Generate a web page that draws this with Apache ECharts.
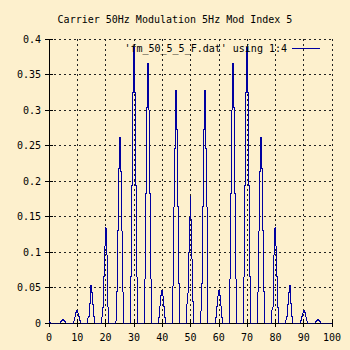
<!DOCTYPE html>
<html>
<head>
<meta charset="utf-8">
<script src="https://cdn.jsdelivr.net/npm/echarts@6/dist/echarts.min.js"></script>
<style>
  html, body { margin: 0; padding: 0; background: #fdf0cd; }
  #chart { width: 350px; height: 350px; }
  /* pixel-sharp strokes, like a bitmap plot terminal */
  #chart svg path, #chart svg line, #chart svg rect { shape-rendering: crispEdges; }
</style>
</head>
<body>
<div id="chart"></div>
<script>
// FM spectrum: carrier 50 Hz, modulation 5 Hz, index 5.
// Each sideband is sampled on a 1/3 Hz grid around its centre frequency.
const sidebandHz = [0, 5, 10, 15, 20, 25, 30, 35, 40, 45, 50, 55, 60, 65, 70, 75, 80, 85, 90, 95];
const binStepHz = 1 / 3;
const binIndex = [-3, -2, -1, 0, 1, 2, 3];
const sidebandSamples = [
  [0, 0, 0, 0.002, 0.001, 0, 0],
  [0, 0.002, 0.004, 0.0055, 0.004, 0.002, 0],
  [0.003, 0.009, 0.015, 0.018, 0.014, 0.009, 0.003],
  [0.009, 0.027, 0.044, 0.053, 0.043, 0.026, 0.009],
  [0.022, 0.065, 0.108, 0.134, 0.096, 0.065, 0.022],
  [0.044, 0.130, 0.217, 0.261, 0.214, 0.130, 0.044],
  [0.065, 0.194, 0.325, 0.388, 0.325, 0.194, 0.065],
  [0.062, 0.182, 0.303, 0.365, 0.300, 0.182, 0.062],
  [0.008, 0.024, 0.039, 0.046, 0.038, 0.023, 0.008],
  [0.056, 0.164, 0.246, 0.328, 0.272, 0.164, 0.056],
  [0.042, 0.100, 0.149, 0.178, 0.146, 0.090, 0.030],
  [0.056, 0.164, 0.272, 0.328, 0.246, 0.164, 0.056],
  [0.008, 0.023, 0.038, 0.046, 0.039, 0.024, 0.008],
  [0.062, 0.182, 0.300, 0.365, 0.303, 0.182, 0.062],
  [0.065, 0.194, 0.325, 0.388, 0.325, 0.194, 0.065],
  [0.044, 0.130, 0.214, 0.261, 0.217, 0.130, 0.044],
  [0.022, 0.065, 0.096, 0.134, 0.108, 0.065, 0.022],
  [0.009, 0.026, 0.043, 0.053, 0.044, 0.027, 0.009],
  [0.003, 0.009, 0.014, 0.018, 0.015, 0.009, 0.003],
  [0, 0.002, 0.004, 0.0055, 0.004, 0.002, 0]
];
const xTicks = [0, 10, 20, 30, 40, 50, 60, 70, 80, 90, 100];
const yTicks = [0, 0.05, 0.1, 0.15, 0.2, 0.25, 0.3, 0.35, 0.4];
const seriesName = "'fm_50_5_5_F.dat' using 1:4";
const titleText = 'Carrier 50Hz Modulation 5Hz Mod Index 5';

// Assemble the spectrum as (frequency, magnitude) pairs with zero baseline between sidebands.
const spectrum = [];
sidebandHz.forEach((centre, i) => {
  if (centre > 0) spectrum.push([+(centre - 4 * binStepHz).toFixed(3), 0]);
  binIndex.forEach((k, j) => {
    const f = +(centre + k * binStepHz).toFixed(3);
    if (f >= 0) spectrum.push([f, sidebandSamples[i][j]]);
  });
  spectrum.push([+(centre + 4 * binStepHz).toFixed(3), 0]);
});
spectrum.push([100, 0]);

const FONT = 'DejaVu Sans Mono';
const ink = '#000000';
const lineBlue = '#0000a0';
const gridDash = { color: '#222', width: 1, type: [2, 3] };

const chart = echarts.init(document.getElementById('chart'), null, { renderer: 'svg' });
chart.setOption({
  backgroundColor: '#fdf0cd',
  animation: false,
  textStyle: { fontFamily: FONT },
  title: {
    text: titleText,
    left: 'center',
    top: 9,
    textStyle: { fontFamily: FONT, fontSize: 10, fontWeight: 'normal', color: ink }
  },
  legend: {
    right: 25,
    top: 38,
    align: 'right',
    itemWidth: 28,
    itemHeight: 1,
    textStyle: { fontFamily: FONT, fontSize: 10, color: ink },
    data: [{ name: seriesName, icon: 'rect', itemStyle: { color: lineBlue } }]
  },
  grid: { left: 49, right: 18, top: 39, bottom: 27, containLabel: false },
  xAxis: [
    {
      type: 'value', position: 'bottom', min: xTicks[0], max: xTicks[xTicks.length - 1], interval: 10, z: 3,
      axisLine: { lineStyle: { color: ink, width: 1 } },
      axisTick: { inside: true, length: 4, lineStyle: { color: ink } },
      axisLabel: { color: ink, fontFamily: FONT, fontSize: 10, margin: 9 },
      splitLine: { show: true, lineStyle: gridDash }
    },
    {
      type: 'value', position: 'top', min: xTicks[0], max: xTicks[xTicks.length - 1], interval: 10, z: 3,
      axisLine: { show: true, lineStyle: { color: ink, width: 1 } },
      axisTick: { inside: true, length: 4, lineStyle: { color: ink } },
      axisLabel: { show: false },
      splitLine: { show: false }
    }
  ],
  yAxis: [
    {
      type: 'value', position: 'left', min: yTicks[0], max: yTicks[yTicks.length - 1], interval: 0.05, z: 3,
      axisLine: { show: true, lineStyle: { color: ink, width: 1 } },
      axisTick: { show: true, inside: true, length: 4, lineStyle: { color: ink } },
      axisLabel: { color: ink, fontFamily: FONT, fontSize: 10, margin: 8 },
      splitLine: { show: true, lineStyle: gridDash }
    },
    {
      type: 'value', position: 'right', min: yTicks[0], max: yTicks[yTicks.length - 1], interval: 0.05, z: 3,
      axisLine: { show: true, lineStyle: { color: ink, width: 1 } },
      axisTick: { show: true, inside: true, length: 4, lineStyle: { color: ink } },
      axisLabel: { show: false },
      splitLine: { show: false }
    }
  ],
  series: [
    {
      name: seriesName,
      type: 'line',
      step: 'middle',
      xAxisIndex: 0,
      yAxisIndex: 0,
      symbol: 'none',
      lineStyle: { color: lineBlue, width: 1 },
      itemStyle: { color: lineBlue },
      data: spectrum
    }
  ]
});
</script>
</body>
</html>
